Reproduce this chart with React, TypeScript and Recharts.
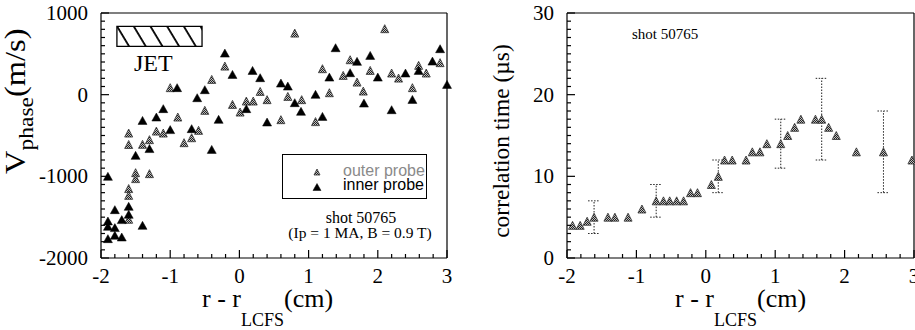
import React from 'react';
import { ScatterChart, Scatter, XAxis, YAxis, ReferenceArea, ErrorBar, Legend } from 'recharts';

const SERIF = '"Liberation Serif", "Times New Roman", serif';
const SANS = '"Liberation Sans", Arial, sans-serif';

// ---------- data: left panel, phase velocity (m/s) vs r - r_LCFS (cm)
const outerProbe: [number, number][] = [
  [0.8, 754], [-0.21, 350], [-0.4, 187], [-1.0, 86], [0.3, 40], [0.1, -78], [0.2, -78],
  [0.4, -61], [0.7, -21], [0.9, -61], [-0.1, -119], [0.01, -213], [-0.5, -192], [-0.89, -274],
  [0.6, -306], [1.1, -330], [-1.2, -446], [-1.1, -470], [-0.59, -437], [-0.69, -527],
  [-0.8, -588], [-1.6, -470], [-1.6, -610], [-1.4, -608], [-1.3, -551], [2.1, 808], [1.6, 428],
  [1.2, 318], [1.5, 236], [1.89, 297], [1.7, 154], [2.2, 265], [2.3, 203], [2.59, 359],
  [2.7, 265], [2.9, 392], [1.3, 24], [1.79, 44], [2.5, 86], [-1.5, -955], [-1.5, -1028],
  [-1.3, -967], [-1.6, -1150], [-1.6, -1233], [-1.6, -1526],
];
const innerProbe: [number, number][] = [
  [-0.21, 509], [-0.1, 248], [0.19, 297], [0.3, 208], [0.6, 142], [0.7, 105], [1.1, 4],
  [-0.9, 86], [-0.5, 61], [-0.61, -37], [0.8, -98], [0.89, -204], [0.1, -171], [-1.1, -171],
  [-1.2, -274], [-1.4, -315], [-0.3, -302], [0.4, -335], [-1.0, -428], [-0.69, -416],
  [-1.3, -660], [-0.4, -670], [1.39, 575], [1.7, 408], [1.89, 481], [1.3, 215], [1.6, 269],
  [2.0, 215], [2.4, 265], [2.59, 297], [2.79, 411], [2.9, 563], [3.0, 126], [1.2, -266],
  [1.8, -103], [2.2, -184], [2.5, -58], [-1.5, -743], [-1.9, -1000], [-1.8, -1408],
  [-1.6, -1367], [-1.6, -1465], [-1.7, -1530], [-1.9, -1547], [-1.9, -1612], [-1.8, -1628],
  [-1.8, -1722], [-1.7, -1743], [-1.9, -1763], [-1.4, -1600],
];

// ---------- data: right panel, correlation time (us) [x, value, error]
const corrTime: [number, number, number][] = [
  [-1.92, 4, 0], [-1.81, 4, 0], [-1.71, 4.5, 0], [-1.61, 5, 2], [-1.41, 5, 0], [-1.31, 5, 0],
  [-1.12, 5, 0], [-0.92, 6, 0], [-0.715, 7, 2], [-0.61, 7, 0], [-0.52, 7, 0], [-0.42, 7, 0],
  [-0.32, 7, 0], [-0.22, 8, 0], [-0.12, 8, 0], [0.08, 9, 0], [0.18, 10, 2], [0.27, 12, 0],
  [0.38, 12, 0], [0.58, 12, 0], [0.67, 13, 0], [0.78, 13, 0], [0.88, 14, 0], [1.08, 14, 3],
  [1.18, 15, 0], [1.28, 16, 0], [1.37, 17, 0], [1.58, 17, 0], [1.67, 17, 5], [1.77, 16, 0],
  [1.88, 15, 0], [2.17, 13, 0], [2.56, 13, 5], [2.97, 12, 0],
];

// ---------- axes / ticks
const xDomain: [number, number] = [-2, 3];
const leftYDomain: [number, number] = [-2000, 1000];
const rightYDomain: [number, number] = [0, 30];
const xMajor = [-2, -1, 0, 1, 2, 3];
const leftYMajor = [-2000, -1000, 0, 1000];
const rightYMajor = [0, 10, 20, 30];
const xMinorStep = 0.2;
const leftYMinorStep = 100;
const rightYMinorStep = 1;

// JET box annotation (data coordinates)
const jetBox = { x1: -1.77, x2: -0.54, y1: 591, y2: 836 };

const steps = (a: number, b: number, s: number) => {
  const out: number[] = [];
  const n = Math.round((b - a) / s);
  for (let i = 0; i <= n; i++) out.push(Math.round((a + i * s) * 1000) / 1000);
  return out;
};
const xTicks = steps(xDomain[0], xDomain[1], xMinorStep);
const leftYTicks = steps(leftYDomain[0], leftYDomain[1], leftYMinorStep);
const rightYTicks = steps(rightYDomain[0], rightYDomain[1], rightYMinorStep);

const outerData = outerProbe.map(([x, y]) => ({ x, y }));
const innerData = innerProbe.map(([x, y]) => ({ x, y }));
const corrData = corrTime.map(([x, y, err]) => ({ x, y, err }));
const corrErrData = corrData.filter((d) => d.err > 0);

// ---------- geometry
const H = 330;
type Plot = { left: number; top: number; right: number; bottom: number };
const LW = 460;
const LPLOT: Plot = { left: 101, top: 13, right: 447, bottom: 258 };
const RX = 460;
const RW = 455;
const RPLOT: Plot = { left: 107, top: 13, right: 454, bottom: 258 };

const MAJ = 8;
const MIN = 4;
const near = (v: number, arr: number[]) => arr.some((m) => Math.abs(m - v) < 1e-6);
const SW = 1.2;

const bottomTick = (plot: Plot, majors: number[]) => (p: any) => {
  const v = p.payload.value;
  const major = near(v, majors);
  const x = p.x;
  return (
    <g>
      <line x1={x} x2={x} y1={plot.bottom} y2={plot.bottom - (major ? MAJ : MIN)} stroke="#000" strokeWidth={SW} />
      {major ? (
        <text x={x} y={plot.bottom + 25} textAnchor="middle" fontFamily={SERIF} fontSize={21} fill="#000">
          {String(v)}
        </text>
      ) : null}
    </g>
  );
};
const topTick = (plot: Plot, majors: number[]) => (p: any) => {
  const v = p.payload.value;
  const major = near(v, majors);
  return <line x1={p.x} x2={p.x} y1={plot.top} y2={plot.top + (major ? MAJ : MIN)} stroke="#000" strokeWidth={SW} />;
};
const leftTick = (plot: Plot, majors: number[]) => (p: any) => {
  const v = p.payload.value;
  const major = near(v, majors);
  const y = p.y;
  return (
    <g>
      <line x1={plot.left} x2={plot.left + (major ? MAJ : MIN)} y1={y} y2={y} stroke="#000" strokeWidth={SW} />
      {major ? (
        <text x={plot.left - 13} y={y + 7} textAnchor="end" fontFamily={SERIF} fontSize={21} fill="#000">
          {String(v)}
        </text>
      ) : null}
    </g>
  );
};
const rightTick = (plot: Plot, majors: number[]) => (p: any) => {
  const v = p.payload.value;
  const major = near(v, majors);
  return <line x1={plot.right} x2={plot.right - (major ? MAJ : MIN)} y1={p.y} y2={p.y} stroke="#000" strokeWidth={SW} />;
};

const Tri = ({ cx, cy, w, h, dark }: any) => {
  if (cx == null || cy == null) return <g />;
  return (
    <polygon
      points={`${cx},${cy - h / 2} ${cx - w / 2},${cy + h / 2} ${cx + w / 2},${cy + h / 2}`}
      fill={dark ? '#000' : 'url(#chk)'}
      stroke={dark ? '#000' : '#333'}
      strokeWidth={dark ? 0.5 : 0.8}
    />
  );
};
const grayShape = (p: any) => <Tri cx={p.cx} cy={p.cy} w={8} h={8} />;
const blackShape = (p: any) => <Tri cx={p.cx} cy={p.cy} w={9} h={8} dark />;
const emptyShape = () => <g />;

const LegendBox = () => (
  <div style={{ width: 145, height: 45, border: '1px solid #000', boxSizing: 'border-box', background: '#fff' }}>
    <svg width={143} height={43} style={{ display: 'block' }}>
      <Tri cx={34} cy={17} w={6} h={6} />
      <text x={60} y={21} fontFamily={SANS} fontSize={16} fill="#8a8a8a">outer probe</text>
      <Tri cx={34} cy={32} w={8} h={7} dark />
      <text x={60} y={35} fontFamily={SANS} fontSize={16} fill="#000">inner probe</text>
    </svg>
  </div>
);

const axisLine = { stroke: '#000', strokeWidth: SW };

function LeftChart() {
  const p = LPLOT;
  return (
    <ScatterChart
      width={LW}
      height={H}
      margin={{ top: p.top - 1, right: LW - p.right - 1, left: 0, bottom: 0 }}
    >
      <XAxis xAxisId="b" type="number" dataKey="x" domain={xDomain} ticks={xTicks} interval={0}
        tickLine={false} axisLine={axisLine} tick={bottomTick(p, xMajor)} height={H - p.bottom} />
      <XAxis xAxisId="t" orientation="top" type="number" dataKey="x" domain={xDomain} ticks={xTicks} interval={0}
        tickLine={false} axisLine={axisLine} tick={topTick(p, xMajor)} height={1} />
      <YAxis yAxisId="l" type="number" dataKey="y" domain={leftYDomain} ticks={leftYTicks} interval={0}
        tickLine={false} axisLine={axisLine} tick={leftTick(p, leftYMajor)} width={p.left} />
      <YAxis yAxisId="r" orientation="right" type="number" dataKey="y" domain={leftYDomain} ticks={leftYTicks} interval={0}
        tickLine={false} axisLine={axisLine} tick={rightTick(p, leftYMajor)} width={1} />
      <ReferenceArea xAxisId="b" yAxisId="l" x1={jetBox.x1} x2={jetBox.x2} y1={jetBox.y1} y2={jetBox.y2}
        fill="url(#jetHatch)" fillOpacity={1} stroke="#000" strokeWidth={1.3} />
      <Scatter name="outer probe" xAxisId="b" yAxisId="l" data={outerData} shape={grayShape} isAnimationActive={false} />
      <Scatter name="inner probe" xAxisId="b" yAxisId="l" data={innerData} shape={blackShape} isAnimationActive={false} />
      <Legend layout="horizontal" verticalAlign="middle" align="center" content={() => <LegendBox />}
        wrapperStyle={{ left: 282, top: 154, width: 145, height: 45 }} />
    </ScatterChart>
  );
}

function RightChart() {
  const p = RPLOT;
  return (
    <ScatterChart
      width={RW}
      height={H}
      margin={{ top: p.top - 1, right: RW - p.right - 1, left: 0, bottom: 0 }}
    >
      <XAxis xAxisId="b" type="number" dataKey="x" domain={xDomain} ticks={xTicks} interval={0}
        tickLine={false} axisLine={axisLine} tick={bottomTick(p, xMajor)} height={H - p.bottom} />
      <XAxis xAxisId="t" orientation="top" type="number" dataKey="x" domain={xDomain} ticks={xTicks} interval={0}
        tickLine={false} axisLine={axisLine} tick={topTick(p, xMajor)} height={1} />
      <YAxis yAxisId="l" type="number" dataKey="y" domain={rightYDomain} ticks={rightYTicks} interval={0}
        tickLine={false} axisLine={axisLine} tick={leftTick(p, rightYMajor)} width={p.left} />
      <YAxis yAxisId="r" orientation="right" type="number" dataKey="y" domain={rightYDomain} ticks={rightYTicks} interval={0}
        tickLine={false} axisLine={axisLine} tick={rightTick(p, rightYMajor)} width={1} />
      <Scatter name="errors" xAxisId="b" yAxisId="l" data={corrErrData} shape={emptyShape} isAnimationActive={false}>
        <ErrorBar dataKey="err" direction="y" width={6} stroke="#222" strokeWidth={1} strokeDasharray="1.5 1.5" isAnimationActive={false} />
      </Scatter>
      <Scatter name="correlation time" xAxisId="b" yAxisId="l" data={corrData} shape={grayShape} isAnimationActive={false} />
    </ScatterChart>
  );
}

export default function App() {
  return (
    <div style={{ position: 'absolute', left: 0, top: 0, width: 915, height: H, background: '#fff', overflow: 'hidden' }}>
      <div style={{ position: 'absolute', left: 0, top: 0 }}>
        <LeftChart />
      </div>
      <div style={{ position: 'absolute', left: RX, top: 0 }}>
        <RightChart />
      </div>
      <svg width={915} height={H} style={{ position: 'absolute', left: 0, top: 0, pointerEvents: 'none' }}>
        <defs>
          <pattern id="chk" patternUnits="userSpaceOnUse" width={2} height={2}>
            <rect x={0} y={0} width={2} height={2} fill="#c0c0c0" />
            <rect x={0} y={0} width={1} height={1} fill="#222" />
            <rect x={1} y={1} width={1} height={1} fill="#222" />
          </pattern>
          <pattern id="jetHatch" patternUnits="userSpaceOnUse" width={14.3} height={14.3} patternTransform="rotate(-31)">
            <rect x={0} y={0} width={14.3} height={14.3} fill="#fff" />
            <line x1={1} y1={0} x2={1} y2={14.3} stroke="#000" strokeWidth={1.8} />
          </pattern>
        </defs>
        {/* left panel annotations */}
        <text x={134} y={71} fontFamily={SERIF} fontSize={24} fill="#000">JET</text>
        <text x={361} y={223} textAnchor="middle" fontFamily={SERIF} fontSize={16} fill="#000">shot 50765</text>
        <text x={360} y={238} textAnchor="middle" fontFamily={SERIF} fontSize={15.5} fill="#000">(Ip = 1 MA, B = 0.9 T)</text>
        {/* right panel annotation */}
        <text x={632} y={39} fontFamily={SERIF} fontSize={15} fill="#000">shot 50765</text>
        {/* axis titles */}
        <text transform="translate(25,174) rotate(-90) scale(1.12,1)" fontFamily={SERIF} fill="#000">
          <tspan fontSize={29}>V</tspan>
          <tspan fontSize={21} dy={8}>phase</tspan>
          <tspan fontSize={29} dy={-8}>(m/s)</tspan>
        </text>
        <text transform="translate(509,141) rotate(-90)" textAnchor="middle" fontFamily={SERIF} fontSize={23.5} fill="#000">
          correlation time (µs)
        </text>
        <text x={202} y={307} fontFamily={SERIF} fill="#000">
          <tspan fontSize={26}>r - r</tspan>
          <tspan fontSize={18} dy={19}>LCFS</tspan>
          <tspan fontSize={26} dy={-19}>(cm)</tspan>
        </text>
        <text x={675} y={307} fontFamily={SERIF} fill="#000">
          <tspan fontSize={26}>r - r</tspan>
          <tspan fontSize={18} dy={19}>LCFS</tspan>
          <tspan fontSize={26} dy={-19}>(cm)</tspan>
        </text>
      </svg>
    </div>
  );
}
